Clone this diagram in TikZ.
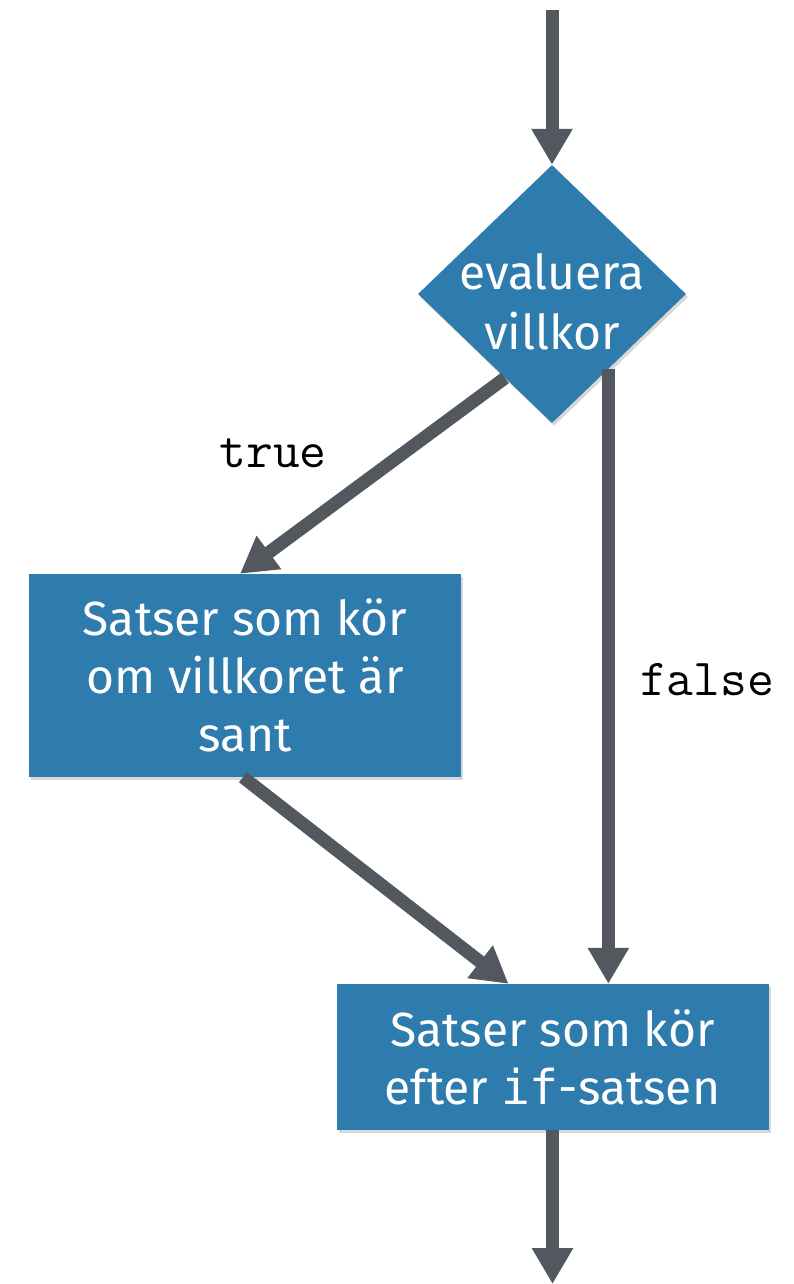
\documentclass[tikz,border=0pt]{standalone}
\usepackage{fontspec}
\setmainfont{Fira Sans}
\newfontfamily\boxmono{DejaVu Sans Mono}
\usetikzlibrary{shapes.geometric,arrows.meta,calc,shadows}
\definecolor{boxblue}{HTML}{2E7BAE}
\definecolor{arrowgrey}{HTML}{53575E}
\tikzset{
  flowbox/.style={rectangle, fill=boxblue, draw=none, minimum width=432pt, minimum height=203pt,
    inner sep=0pt, align=center, text=white, font=\fontsize{48}{58}\selectfont,
    drop shadow={opacity=0.3, shadow xshift=2pt, shadow yshift=-3pt}},
  decision/.style={diamond, fill=boxblue, draw=none, minimum width=268pt, minimum height=258pt,
    inner sep=0pt, drop shadow={opacity=0.3, shadow xshift=2pt, shadow yshift=-3pt}},
  decisiontext/.style={align=center, text=white, inner sep=0pt, font=\fontsize{48}{60}\selectfont},
  flowarrow/.style={draw=arrowgrey, line width=13pt, -{Triangle[width=39pt,length=36pt]}},
  branchlabel/.style={text=black, inner sep=0pt, font=\ttfamily\fontsize{52}{56}\selectfont}
}
\begin{document}
\begin{tikzpicture}[x=1pt,y=-1pt]
\useasboundingbox[fill=white] (0,0) rectangle (794,1284);
\node[decision] (d) at (552,294) {};
\node[decisiontext] (dt) at (552,302) {evaluera\\villkor};
\node[flowbox] (b1) at (245,675.5) {Satser som kör\\om villkoret är\\sant};
\node[flowbox, minimum height=146pt] (b2) at (552.5,1057) {Satser som kör\\efter {\boxmono if}-satsen};
\coordinate (top) at (552,10);
\coordinate (bottom) at (552.5,1284);
\coordinate (dtrue) at ($(d.west)!0.65!(d.south)$);
\coordinate (dfalse) at ($(d.east)!0.58!(d.south)$);
\draw[flowarrow] (top) -- (d.north);
\draw[flowarrow] (dtrue) -- ([xshift=-5pt]b1.north);
\draw[flowarrow] (dfalse) -- (dfalse |- b2.north);
\draw[flowarrow] ([xshift=-2pt]b1.south) -- ([xshift=-44pt]b2.north);
\draw[flowarrow] (b2.south) -- (bottom);
\node[branchlabel] (lt) at (273,453) {true};
\node[branchlabel] (lf) at (707,680) {false};
\end{tikzpicture}
\end{document}
